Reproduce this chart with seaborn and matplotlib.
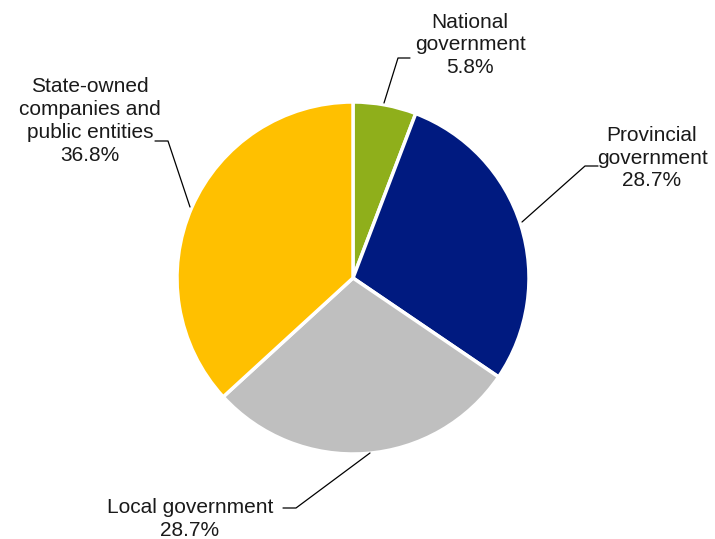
import matplotlib
matplotlib.use("Agg")
import matplotlib.pyplot as plt
import seaborn as sns

categories = ["National\ngovernment", "Provincial\ngovernment", "Local government",
              "State-owned\ncompanies and\npublic entities"]
values = [5.8, 28.7, 28.7, 36.8]
colors = ["#8FAF1B", "#001A80", "#BFBFBF", "#FFC000"]

sns.set_style("white")
plt.rcParams['font.family'] = ['Liberation Sans', 'DejaVu Sans']

W, H = 715, 539
fig = plt.figure(figsize=(7.15, 5.39), dpi=100)
ax = fig.add_axes([0, 0, 1, 1])


def fy(y):
    return H - y


cx, cy, r = 353, 278, 176
ax.pie(values, colors=sns.color_palette(colors), startangle=90, counterclock=False,
       center=(cx, fy(cy)), radius=r, frame=True,
       wedgeprops=dict(edgecolor='white', linewidth=2.5))
ax.set_xlim(0, W)
ax.set_ylim(0, H)
ax.set_aspect('equal')
ax.axis('off')

labels = [f"{c}\n{v}%" for c, v in zip(categories, values)]
label_pos = [(470, 45), (652, 158), (190, 519), (90, 121)]
lines = [
    [(384, 103), (398, 58), (410, 58)],
    [(522, 222), (585, 166), (598, 166)],
    [(370, 453), (296, 508), (283, 508)],
    [(190, 207), (168, 141), (155, 141)],
]
for lab, (x, y), ln in zip(labels, label_pos, lines):
    ax.text(x, fy(y), lab, ha='center', va='center', fontsize=15, linespacing=1.25, color='#1a1a1a')
    ax.plot([p[0] for p in ln], [fy(p[1]) for p in ln], color='black', linewidth=0.9)

fig.savefig("out.png", dpi=100)
